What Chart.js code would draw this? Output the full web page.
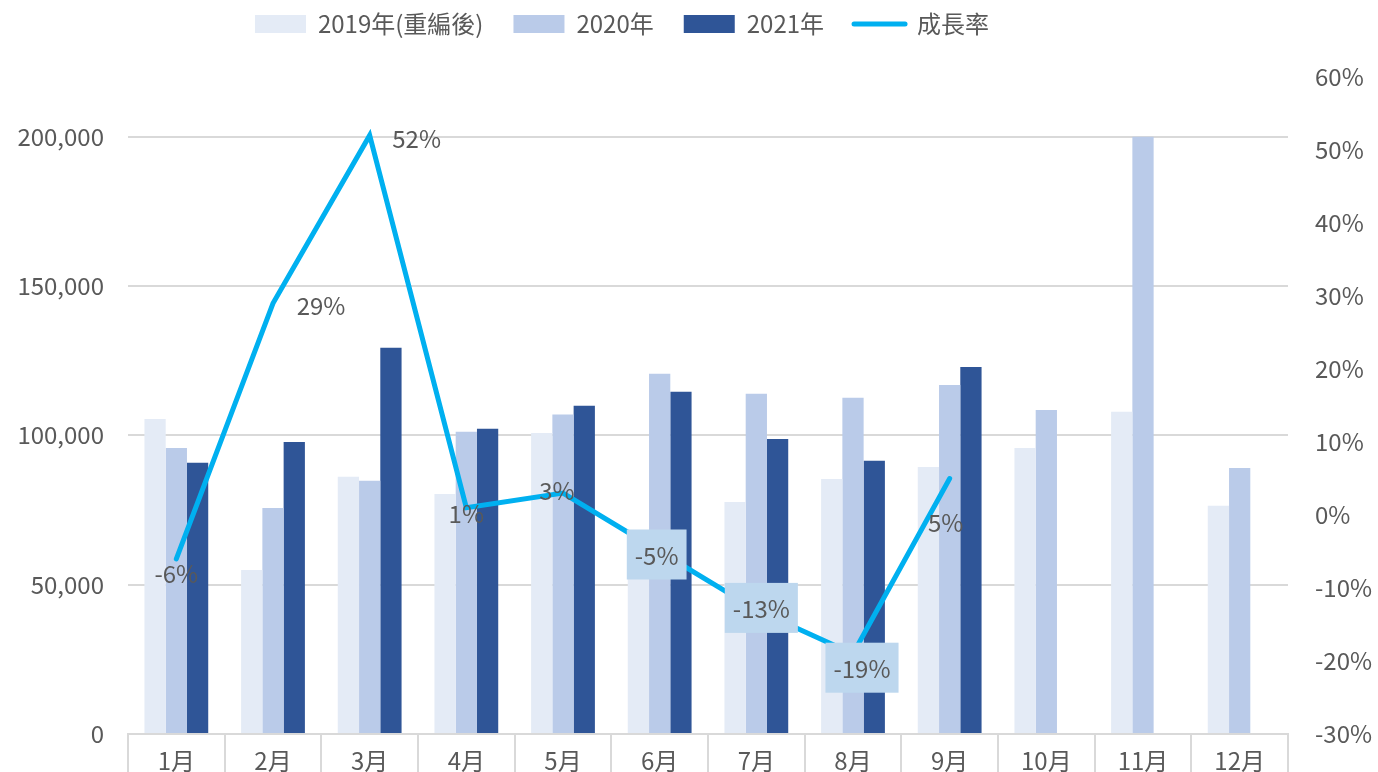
<!DOCTYPE html>
<html>
<head>
<meta charset="utf-8">
<script src="https://cdn.jsdelivr.net/npm/chart.js@4"></script>
<style>
  body { margin: 0; background: #fff; overflow: hidden; }
  #wrap { width: 1378px; height: 772px; }
</style>
</head>
<body>
<div id="wrap"><canvas id="grafico"></canvas></div>
<script>
const meses = ['1月', '2月', '3月', '4月', '5月', '6月', '7月', '8月', '9月', '10月', '11月', '12月']
const serie2019 = [105500, 54900, 86100, 80400, 100800, 60000, 77700, 85400, 89400, 95800, 107900, 76400]
const serie2020 = [95800, 75700, 84800, 101200, 107000, 120600, 113900, 112600, 116900, 108500, 200000, 89100]
const serie2021 = [90800, 97800, 129300, 102200, 109900, 114600, 98800, 91500, 122900, null, null, null]
const crecimiento = [-6, 29, 52, 1, 3, -5, -13, -19, 5]
const ticksIzq = [0, 50000, 100000, 150000, 200000]

// where each growth label sits relative to its point, and whether it gets a box
const labelOffsets = [[0, 14], [48, 2], [47, 2], [0, 5], [-6, -3], [-3, 3], [5, -2], [9, 14], [-4, 43]]
const labelBoxed = [false, false, false, false, false, true, true, true, false]

const gris = '#595959'
const fuente = "'Noto Sans CJK TC', 'Noto Sans', sans-serif"

const etiquetas = {
  id: 'etiquetas',
  afterLayout(chart) {
    // legend sits a bit left of centre and close to the top in the original
    chart.legend.left -= 67
    chart.legend.right -= 67
    chart.legend.top -= 31
    chart.legend.bottom -= 31
  },
  afterDatasetsDraw(chart) {
    const ctx = chart.ctx
    const meta = chart.getDatasetMeta(0)
    ctx.save()
    ctx.font = '24px ' + fuente
    ctx.textAlign = 'center'
    ctx.textBaseline = 'middle'
    crecimiento.forEach((v, i) => {
      const pt = meta.data[i]
      if (!pt) return
      const txt = v + '%'
      const x = pt.x + labelOffsets[i][0]
      const y = pt.y + labelOffsets[i][1]
      if (labelBoxed[i]) {
        const w = ctx.measureText(txt).width + 16
        ctx.fillStyle = '#BDD7EE'
        ctx.fillRect(x - w / 2, y - 25, w, 50)
      }
      ctx.fillStyle = gris
      ctx.fillText(txt, x, y + 1)
    })
    ctx.restore()
  }
}

const sinRelleno = scale => { scale.paddingTop = 0; scale.paddingBottom = 0 }

new Chart(document.getElementById('grafico'), {
  data: {
    labels: meses,
    datasets: [
      {
        type: 'line',
        label: '成長率',
        data: crecimiento.map(v => v / 100),
        yAxisID: 'y1',
        borderColor: '#00B0F0',
        backgroundColor: '#00B0F0',
        borderWidth: 5,
        borderCapStyle: 'round',
        pointRadius: 0,
        tension: 0,
        order: 0
      },
      { type: 'bar', label: '2019年(重編後)', data: serie2019, backgroundColor: '#E4EBF6', order: 1 },
      { type: 'bar', label: '2020年', data: serie2020, backgroundColor: '#BACBE9', order: 1 },
      { type: 'bar', label: '2021年', data: serie2021, backgroundColor: '#2F5597', order: 1 }
    ]
  },
  options: {
    responsive: true,
    maintainAspectRatio: false,
    animation: false,
    layout: { padding: { top: 13, left: 0, right: 0, bottom: 0 } },
    datasets: { bar: { categoryPercentage: 0.66, barPercentage: 1 } },
    plugins: {
      tooltip: { enabled: false },
      legend: {
        position: 'top',
        labels: {
          color: gris,
          font: { family: fuente, size: 24 },
          usePointStyle: true,
          pointStyleWidth: 51,
          boxHeight: 18,
          padding: 30,
          sort: (a, b) => (a.datasetIndex === 0) - (b.datasetIndex === 0),
          generateLabels(chart) {
            const base = Chart.defaults.plugins.legend.labels.generateLabels(chart)
            return base.map(l => Object.assign(l, l.datasetIndex === 0
              ? { pointStyle: 'line', lineWidth: 5, lineCap: 'round' }
              : { pointStyle: 'rect', lineWidth: 0 }))
          }
        }
      }
    },
    scales: {
      x: {
        offset: true,
        grid: { offset: true, drawOnChartArea: false, drawTicks: true, tickLength: 40, color: '#D9D9D9', lineWidth: 2 },
        border: { display: true, color: '#D9D9D9', width: 2 },
        ticks: { color: gris, font: { family: fuente, size: 24 }, padding: -28, maxRotation: 0 },
        afterFit(scale) { scale.height = 38 }
      },
      y: {
        position: 'left',
        min: 0,
        max: 220000,
        afterBuildTicks(scale) { scale.ticks = ticksIzq.map(v => ({ value: v })) },
        grid: { color: '#D9D9D9', lineWidth: 2, drawTicks: false },
        border: { display: false },
        ticks: {
          color: gris,
          font: { family: fuente, size: 24 },
          padding: 24,
          callback: v => v.toLocaleString('en-US')
        },
        afterFit(scale) { scale.width = 128; sinRelleno(scale) }
      },
      y1: {
        position: 'right',
        min: -0.3,
        max: 0.6,
        grid: { display: false, drawTicks: false },
        border: { display: false },
        ticks: {
          stepSize: 0.1,
          color: gris,
          font: { family: fuente, size: 24 },
          padding: 27,
          callback: v => Math.round(v * 100) + '%'
        },
        afterFit(scale) { scale.width = 90; sinRelleno(scale) }
      }
    }
  },
  plugins: [etiquetas]
})
</script>
</body>
</html>
